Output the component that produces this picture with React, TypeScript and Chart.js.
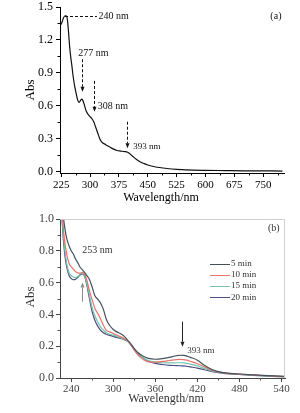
import React, { useEffect, useRef } from "react";
import { Chart, registerables } from "chart.js";

Chart.register(...registerables);

// ---------- Panel (a) data ----------
const wavelengthsA = [225, 228, 231, 235, 238, 241, 244, 247, 250, 253, 256, 260, 264, 268, 271, 274, 278, 281, 285, 290, 295, 300, 305, 310, 315, 320, 325, 330, 340, 350, 360, 370, 380, 390, 395, 400, 410, 420, 430, 440, 450, 465, 480, 500, 525, 550, 600, 650, 700, 750, 800];
const absA = [1.34, 1.37, 1.4, 1.42, 1.42, 1.39, 1.28, 1.14, 1.04, 0.96, 0.87, 0.78, 0.71, 0.65, 0.63, 0.64, 0.66, 0.65, 0.61, 0.55, 0.52, 0.5, 0.48, 0.45, 0.4, 0.35, 0.3, 0.27, 0.245, 0.225, 0.205, 0.19, 0.185, 0.18, 0.178, 0.17, 0.14, 0.11, 0.088, 0.072, 0.058, 0.044, 0.035, 0.026, 0.018, 0.013, 0.009, 0.007, 0.005, 0.004, 0.003];
const xTicksA = [225, 300, 375, 450, 525, 600, 675, 750];
const xMinorA = [262.5, 337.5, 412.5, 487.5, 562.5, 637.5, 712.5, 787.5];
const yTicksA = [0, 0.3, 0.6, 0.9, 1.2, 1.5];
const yMinorA = [0.15, 0.45, 0.75, 1.05, 1.35];

// ---------- Panel (b) data ----------
const wavelengthsB = [225, 228, 231, 234, 237, 240, 243, 246, 250, 253, 256, 259, 262, 266, 270, 274, 278, 282, 286, 290, 295, 300, 305, 310, 315, 320, 325, 330, 335, 340, 345, 350, 360, 370, 380, 390, 395, 400, 405, 410, 420, 430, 440, 450, 460, 480, 500, 520, 545];
const abs5min = [1.25, 1.05, 0.94, 0.87, 0.83, 0.8, 0.78, 0.75, 0.72, 0.695, 0.68, 0.665, 0.645, 0.62, 0.57, 0.515, 0.495, 0.47, 0.43, 0.37, 0.33, 0.305, 0.29, 0.28, 0.265, 0.24, 0.215, 0.185, 0.16, 0.145, 0.132, 0.123, 0.118, 0.122, 0.13, 0.14, 0.143, 0.142, 0.138, 0.13, 0.112, 0.08, 0.055, 0.04, 0.032, 0.025, 0.02, 0.015, 0.01];
const abs10min = [1.2, 0.98, 0.85, 0.77, 0.72, 0.7, 0.685, 0.67, 0.66, 0.66, 0.665, 0.655, 0.62, 0.55, 0.49, 0.435, 0.405, 0.37, 0.33, 0.3, 0.29, 0.28, 0.27, 0.26, 0.25, 0.235, 0.21, 0.175, 0.145, 0.125, 0.11, 0.102, 0.1, 0.104, 0.11, 0.116, 0.117, 0.116, 0.112, 0.105, 0.09, 0.07, 0.05, 0.038, 0.031, 0.024, 0.019, 0.014, 0.009];
const abs15min = [1.18, 0.95, 0.8, 0.71, 0.66, 0.645, 0.635, 0.632, 0.64, 0.655, 0.66, 0.645, 0.6, 0.52, 0.44, 0.39, 0.35, 0.32, 0.3, 0.285, 0.275, 0.27, 0.262, 0.255, 0.245, 0.233, 0.21, 0.18, 0.155, 0.135, 0.12, 0.11, 0.1, 0.096, 0.095, 0.096, 0.096, 0.095, 0.092, 0.087, 0.076, 0.06, 0.046, 0.036, 0.03, 0.023, 0.018, 0.013, 0.008];
const abs20min = [1.15, 0.92, 0.77, 0.69, 0.645, 0.625, 0.618, 0.62, 0.635, 0.65, 0.655, 0.64, 0.59, 0.5, 0.415, 0.36, 0.325, 0.3, 0.285, 0.275, 0.268, 0.262, 0.255, 0.25, 0.242, 0.232, 0.21, 0.18, 0.155, 0.135, 0.118, 0.105, 0.092, 0.085, 0.08, 0.078, 0.077, 0.076, 0.074, 0.07, 0.062, 0.052, 0.042, 0.034, 0.028, 0.022, 0.017, 0.012, 0.008];
const seriesLabelsB = ["5 min", "10 min", "15 min", "20 min"];
const seriesColorsB = ["#44515c", "#e8736b", "#76c4ad", "#4c4f80"];
const xTicksB = [240, 300, 360, 420, 480, 540];
const xMinorB = [270, 330, 390, 450, 510];
const yTicksB = [0, 0.2, 0.4, 0.6, 0.8, 1.0];
const yMinorB = [0.1, 0.3, 0.5, 0.7, 0.9];

// Annotations (data units)
const notesA = [
  { text: "240 nm", x: 322, y: 1.413, align: "left", size: 10 },
  { text: "277 nm", x: 309, y: 1.077, align: "center", size: 10 },
  { text: "308 nm", x: 320, y: 0.59, align: "left", size: 10 },
  { text: "393 nm", x: 412, y: 0.225, align: "left", size: 9 },
  { text: "(a)", x: 783, y: 1.41, align: "center", size: 10 },
];
const arrowsA = [
  { x1: 235, y1: 1.418, x2: 318, y2: 1.418, head: false },
  { x1: 278, y1: 1.023, x2: 278, y2: 0.727, head: true },
  { x1: 311, y1: 0.825, x2: 311, y2: 0.544, head: true },
  { x1: 397, y1: 0.453, x2: 397, y2: 0.21, head: true },
];
const notesB = [
  { text: "253 nm", x: 277.5, y: 0.8, align: "center", size: 10 },
  { text: "393 nm", x: 425, y: 0.17, align: "center", size: 9 },
  { text: "(b)", x: 529, y: 0.943, align: "center", size: 10 },
];
const arrowsB = [
  { x1: 255, y1: 0.48, x2: 255, y2: 0.6, color: "#8a8a8a" },
  { x1: 397.6, y1: 0.354, x2: 397.6, y2: 0.197, color: "#222" },
];

const SERIF = "'Liberation Serif', 'DejaVu Serif', serif";

function drawArrow(ctx: CanvasRenderingContext2D, x1: number, y1: number, x2: number, y2: number, color: string, dashed: boolean, head: boolean) {
  ctx.save();
  ctx.strokeStyle = color;
  ctx.fillStyle = color;
  ctx.lineWidth = 1;
  const ang = Math.atan2(y2 - y1, x2 - x1);
  const hl = head ? 5 : 0;
  const vx = Math.abs(x1 - x2) < 0.5 ? Math.round(x1) + 0.5 : x1;
  const X1 = Math.abs(x1 - x2) < 0.5 ? vx : x1;
  const X2 = Math.abs(x1 - x2) < 0.5 ? vx : x2;
  const Y1 = Math.abs(y1 - y2) < 0.5 ? Math.round(y1) + 0.5 : y1;
  const Y2 = Math.abs(y1 - y2) < 0.5 ? Y1 : y2;
  ctx.setLineDash(dashed ? [3, 2] : []);
  ctx.beginPath();
  ctx.moveTo(X1, Y1);
  ctx.lineTo(X2 - Math.cos(ang) * hl, Y2 - Math.sin(ang) * hl);
  ctx.stroke();
  ctx.setLineDash([]);
  if (head) {
    const bx = X2 - Math.cos(ang) * hl;
    const by = Y2 - Math.sin(ang) * hl;
    const w = 2;
    ctx.beginPath();
    ctx.moveTo(X2, Y2);
    ctx.lineTo(bx - Math.sin(ang) * w, by + Math.cos(ang) * w);
    ctx.lineTo(bx + Math.sin(ang) * w, by - Math.cos(ang) * w);
    ctx.closePath();
    ctx.fill();
  }
  ctx.restore();
}

function minorTicks(chart: any, mx: number[], my: number[], color: string) {
  const ctx = chart.ctx;
  const xs = chart.scales.x;
  const ys = chart.scales.y;
  const a = chart.chartArea;
  ctx.save();
  ctx.strokeStyle = color;
  ctx.lineWidth = 1;
  mx.forEach((v) => {
    const px = Math.round(xs.getPixelForValue(v)) + 0.5;
    ctx.beginPath();
    ctx.moveTo(px, a.bottom);
    ctx.lineTo(px, a.bottom + 2.5);
    ctx.stroke();
  });
  my.forEach((v) => {
    const py = Math.round(ys.getPixelForValue(v)) + 0.5;
    ctx.beginPath();
    ctx.moveTo(a.left, py);
    ctx.lineTo(a.left - 2.5, py);
    ctx.stroke();
  });
  ctx.restore();
}

function drawNotes(chart: any, notes: any[], color: string) {
  const ctx = chart.ctx;
  const xs = chart.scales.x;
  const ys = chart.scales.y;
  ctx.save();
  ctx.fillStyle = color;
  ctx.textBaseline = "middle";
  notes.forEach((n) => {
    ctx.font = `${n.size}px ${SERIF}`;
    ctx.textAlign = n.align;
    ctx.fillText(n.text, xs.getPixelForValue(n.x), ys.getPixelForValue(n.y));
  });
  ctx.restore();
}

function drawTitles(chart: any, xTitleX: number, xTitleY: number, yTitleX: number, yTitleY: number, color: string) {
  const ctx = chart.ctx;
  ctx.save();
  ctx.fillStyle = color;
  ctx.font = `12px ${SERIF}`;
  ctx.textAlign = "center";
  ctx.textBaseline = "alphabetic";
  ctx.fillText("Wavelength/nm", xTitleX, xTitleY);
  ctx.translate(yTitleX, yTitleY);
  ctx.rotate(-Math.PI / 2);
  ctx.font = `13px ${SERIF}`;
  ctx.textBaseline = "middle";
  ctx.fillText("Abs", 0, 0);
  ctx.restore();
}

function axisScale(min: number, max: number, ticks: number[], isX: boolean, size: number, color: string, fontSize: number, pad: number, fmt: (v: number) => string) {
  return {
    type: "linear",
    min,
    max,
    afterFit: (s: any) => {
      if (isX) s.height = size;
      else s.width = size;
      s.paddingTop = 0;
      s.paddingBottom = 0;
      s.paddingLeft = 0;
      s.paddingRight = 0;
    },
    afterBuildTicks: (s: any) => {
      s.ticks = ticks.map((v) => ({ value: v }));
    },
    grid: { drawOnChartArea: false, drawTicks: true, tickLength: 4, color, lineWidth: 1 },
    border: { display: true, color, width: 1 },
    ticks: {
      font: { family: SERIF, size: fontSize },
      color,
      padding: pad,
      maxRotation: 0,
      autoSkip: false,
      callback: (v: any) => fmt(Number(v)),
    },
  };
}

function PanelA() {
  const ref = useRef<HTMLCanvasElement | null>(null);
  useEffect(() => {
    if (!ref.current) return;
    const decor = {
      id: "decorA",
      afterDraw(chart: any) {
        minorTicks(chart, xMinorA, yMinorA, "#000");
        const xs = chart.scales.x;
        const ys = chart.scales.y;
        arrowsA.forEach((a) =>
          drawArrow(chart.ctx, xs.getPixelForValue(a.x1), ys.getPixelForValue(a.y1), xs.getPixelForValue(a.x2), ys.getPixelForValue(a.y2), "#111", true, a.head)
        );
        drawNotes(chart, notesA, "#111");
        drawTitles(chart, 161, 201, 31, 90, "#000");
      },
    };
    const chart = new Chart(ref.current, {
      type: "line",
      data: {
        datasets: [
          {
            data: wavelengthsA.map((w, i) => ({ x: w, y: absA[i] })),
            borderColor: "#111",
            borderWidth: 1.2,
            pointRadius: 0,
            cubicInterpolationMode: "monotone",
            fill: false,
          },
        ],
      },
      options: {
        animation: false,
        responsive: false,
        events: [],
        layout: { padding: { left: 0, right: 16, top: 7, bottom: 0 } },
        plugins: { legend: { display: false }, tooltip: { enabled: false } },
        scales: {
          x: axisScale(222, 804, xTicksA, true, 33, "#000", 11, 2, (v) => String(v)),
          y: axisScale(-0.015, 1.5, yTicksA, false, 60, "#000", 12, 3, (v) => v.toFixed(1)),
        },
      } as any,
      plugins: [decor],
    } as any);
    return () => chart.destroy();
  }, []);
  return <canvas ref={ref} width={300} height={206} style={{ position: "absolute", left: 0, top: 0, display: "block" }} />;
}

function PanelB() {
  const ref = useRef<HTMLCanvasElement | null>(null);
  useEffect(() => {
    if (!ref.current) return;
    const series = [abs5min, abs10min, abs15min, abs20min];
    const decor = {
      id: "decorB",
      afterDraw(chart: any) {
        const ctx = chart.ctx;
        const a = chart.chartArea;
        ctx.save();
        ctx.strokeStyle = "#cfcfcf";
        ctx.lineWidth = 1;
        ctx.beginPath();
        ctx.moveTo(a.left, a.top + 0.5);
        ctx.lineTo(a.right - 0.5, a.top + 0.5);
        ctx.lineTo(a.right - 0.5, a.bottom);
        ctx.stroke();
        ctx.restore();
        minorTicks(chart, xMinorB, yMinorB, "#555");
        const xs = chart.scales.x;
        const ys = chart.scales.y;
        arrowsB.forEach((r) =>
          drawArrow(ctx, xs.getPixelForValue(r.x1), ys.getPixelForValue(r.y1), xs.getPixelForValue(r.x2), ys.getPixelForValue(r.y2), r.color, false, true)
        );
        drawNotes(chart, notesB, "#333");
        // legend
        ctx.save();
        ctx.font = `9px ${SERIF}`;
        ctx.textBaseline = "middle";
        ctx.textAlign = "left";
        chart.data.datasets.forEach((ds: any, i: number) => {
          const y = a.top + 44.5 + i * 11.3;
          const yy = Math.round(y) + 0.5;
          ctx.strokeStyle = ds.borderColor;
          ctx.lineWidth = 1;
          ctx.beginPath();
          ctx.moveTo(a.left + 150, yy);
          ctx.lineTo(a.left + 170, yy);
          ctx.stroke();
          ctx.fillStyle = "#333";
          ctx.fillText(ds.label, a.left + 171, y);
        });
        ctx.restore();
        drawTitles(chart, 166, 196, 31, 91, "#333");
      },
    };
    const chart = new Chart(ref.current, {
      type: "line",
      data: {
        datasets: series.map((s, k) => ({
          label: seriesLabelsB[k],
          data: wavelengthsB.map((w, i) => ({ x: w, y: s[i] })),
          borderColor: seriesColorsB[k],
          borderWidth: 1.2,
          pointRadius: 0,
          cubicInterpolationMode: "monotone",
          fill: false,
        })),
      },
      options: {
        animation: false,
        responsive: false,
        events: [],
        layout: { padding: { left: 0, right: 15, top: 13, bottom: 0 } },
        plugins: { legend: { display: false }, tooltip: { enabled: false } },
        scales: {
          x: axisScale(224, 545, xTicksB, true, 35, "#444", 11, 1, (v) => String(v)),
          y: axisScale(0, 1.0, yTicksB, false, 60, "#444", 12, 2, (v) => v.toFixed(1)),
        },
      } as any,
      plugins: [decor],
    } as any);
    return () => chart.destroy();
  }, []);
  return <canvas ref={ref} width={300} height={207} style={{ position: "absolute", left: 0, top: 206, display: "block" }} />;
}

export default function App() {
  return (
    <div style={{ position: "absolute", left: 0, top: 0, width: 300, height: 413, background: "#fff", overflow: "hidden" }}>
      <PanelA />
      <PanelB />
    </div>
  );
}
